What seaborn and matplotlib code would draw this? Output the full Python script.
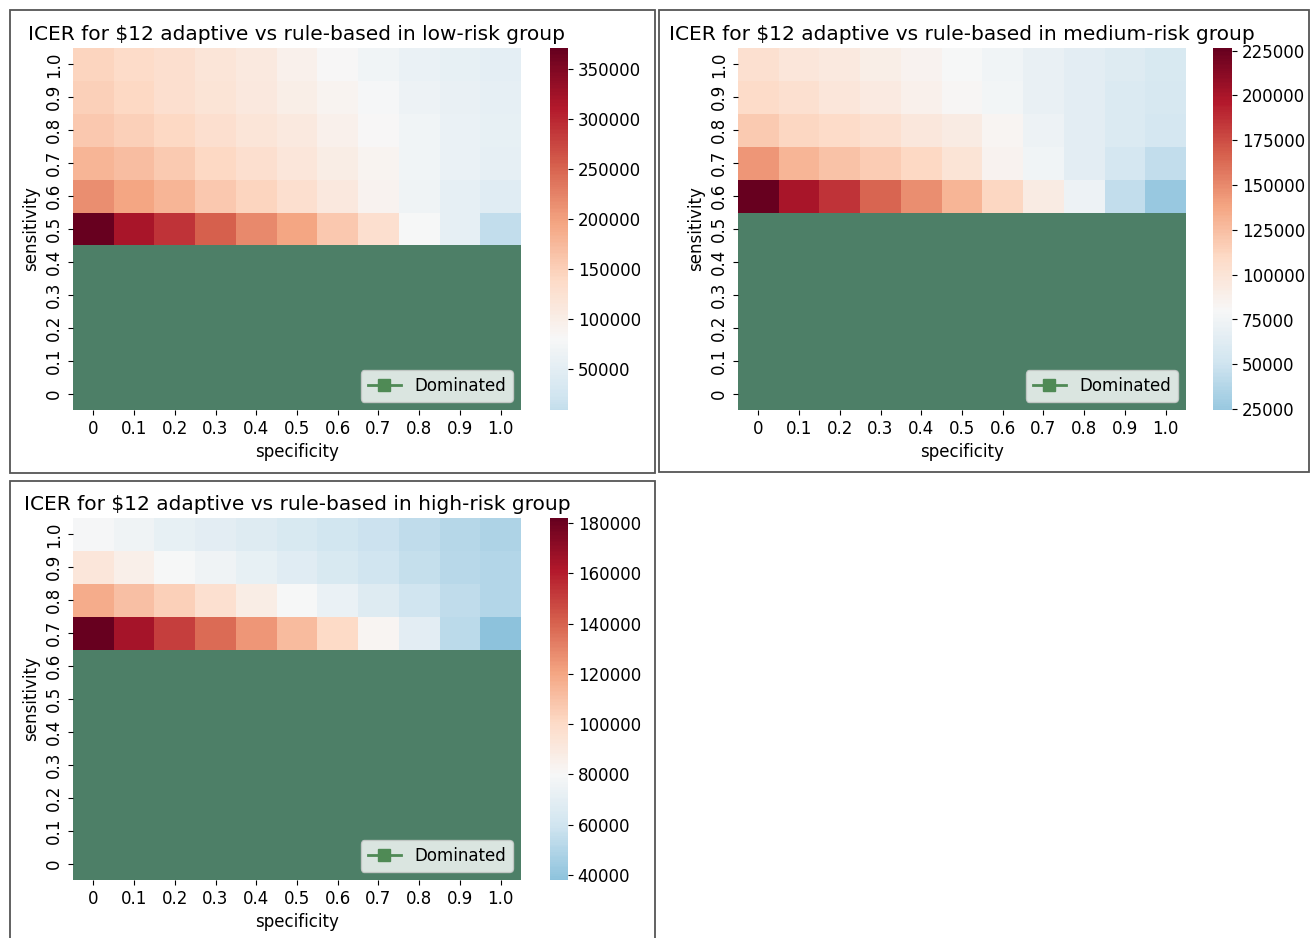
import numpy as np
import pandas as pd
import matplotlib
matplotlib.use("Agg")
import matplotlib.pyplot as plt
from matplotlib.lines import Line2D
from matplotlib.patches import Rectangle
from matplotlib.ticker import MultipleLocator
import seaborn as sns

# axis labels
spec_labels = ['0', '0.1', '0.2', '0.3', '0.4', '0.5', '0.6', '0.7', '0.8', '0.9', '1.0']
sens_labels = ['1.0', '0.9', '0.8', '0.7', '0.6', '0.5', '0.4', '0.3', '0.2', '0.1', '0']  # top -> bottom

# ICER values, rows from sensitivity 1.0 downwards; rows not listed are dominated
low_icer = [
    [145000, 137000, 128000, 118000, 108000, 95000, 82000, 70000, 62000, 57000, 52000],
    [150000, 140000, 130000, 120000, 110000, 100000, 88000, 76000, 66000, 59000, 54000],
    [160000, 150000, 140000, 128000, 118000, 108000, 95000, 82000, 70000, 61000, 56000],
    [180000, 170000, 155000, 140000, 128000, 116000, 102000, 88000, 70000, 60000, 54000],
    [215000, 195000, 180000, 160000, 145000, 128000, 110000, 92000, 68000, 55000, 45000],
    [371000, 320000, 290000, 255000, 220000, 195000, 160000, 130000, 80000, 55000, 9000],
]
med_icer = [
    [103000, 98000, 94000, 90000, 85000, 80000, 75000, 70000, 65000, 61000, 57000],
    [108000, 103000, 98000, 93000, 88000, 82000, 76000, 70000, 65000, 60000, 56000],
    [118000, 112000, 108000, 103000, 97000, 92000, 83000, 72000, 65000, 60000, 55000],
    [145000, 130000, 123000, 117000, 110000, 100000, 85000, 75000, 65000, 55000, 45000],
    [226500, 200000, 185000, 165000, 148000, 130000, 112000, 92000, 72000, 45000, 24500],
]
high_icer = [
    [79000, 76000, 72000, 69000, 67000, 64000, 61000, 58000, 54000, 51000, 49000],
    [92000, 86000, 80000, 76000, 72000, 68000, 64000, 60000, 56000, 52000, 50000],
    [118000, 110000, 104000, 96000, 88000, 80000, 73000, 67000, 60000, 54000, 50000],
    [182000, 165000, 150000, 138000, 125000, 112000, 100000, 82000, 70000, 53000, 38000],
]

titles = [
    'ICER for $12 adaptive vs rule-based in low-risk group',
    'ICER for $12 adaptive vs rule-based in medium-risk group',
    'ICER for $12 adaptive vs rule-based in high-risk group',
]
cbar_steps = [50000, 25000, 20000]

dom_color = '#4d7f67'
center_val = 80000


def to_frame(rows):
    grid = np.full((len(sens_labels), len(spec_labels)), np.nan)
    grid[:len(rows)] = np.array(rows, dtype=float)
    return pd.DataFrame(grid, index=sens_labels, columns=spec_labels)


W, H = 1310, 938
fig = plt.figure(figsize=(W / 100, H / 100), dpi=100)


def px_axes(x0, y0, x1, y1):
    return fig.add_axes([x0 / W, 1 - y1 / H, (x1 - x0) / W, (y1 - y0) / H])


# panel frames
for (x0, y0, x1, y1) in [(10, 10, 655, 473), (659, 10, 1309, 472), (10, 481, 655, 945)]:
    fig.patches.append(Rectangle((x0 / W, 1 - y1 / H), (x1 - x0) / W, (y1 - y0) / H,
                                 transform=fig.transFigure, fill=False,
                                 edgecolor='#555555', linewidth=1.3))

layout = [
    ((73, 48, 521, 410), (550, 48, 568, 410)),
    ((738, 48, 1186, 410), (1213, 48, 1232, 410)),
    ((73, 518, 521, 880), (550, 518, 568, 880)),
]

for data, title, step, (hm_box, cb_box) in zip([low_icer, med_icer, high_icer], titles, cbar_steps, layout):
    ax = px_axes(*hm_box)
    cax = px_axes(*cb_box)
    ax.set_facecolor(dom_color)
    sns.heatmap(to_frame(data), cmap='RdBu_r', center=center_val, ax=ax, cbar_ax=cax)
    ax.set_title(title, fontsize=14.5)
    ax.set_xlabel('specificity', fontsize=12)
    ax.set_ylabel('sensitivity', fontsize=12)
    ax.tick_params(labelsize=12)
    cax.yaxis.set_major_locator(MultipleLocator(step))
    cax.tick_params(labelsize=12)
    handle = Line2D([], [], color='#4f8a55', marker='s', markersize=8, linewidth=2)
    ax.legend([handle], ['Dominated'], loc='lower right', fontsize=12)

plt.savefig('out.png', dpi=100)
plt.close()
